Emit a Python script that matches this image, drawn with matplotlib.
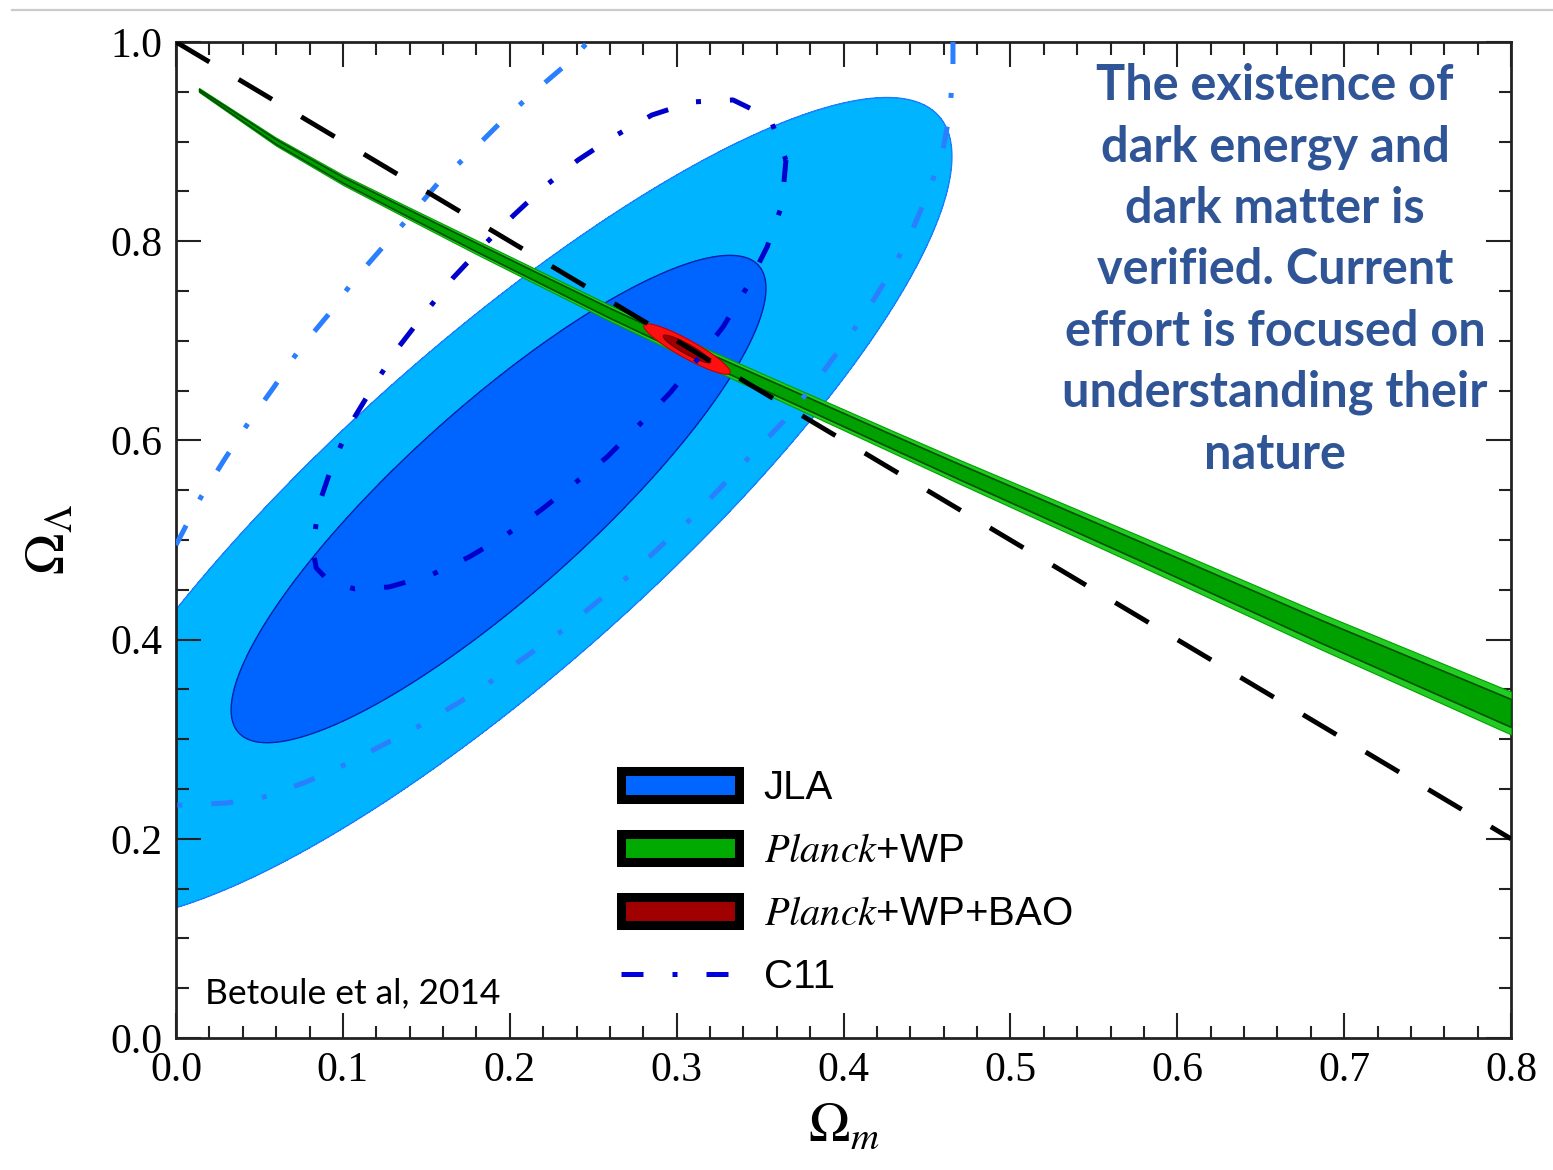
import numpy as np
import matplotlib
matplotlib.use("Agg")
import matplotlib.pyplot as plt
from matplotlib.patches import Patch
from matplotlib.lines import Line2D

plt.rcParams['font.family'] = 'Liberation Serif'
plt.rcParams['mathtext.fontset'] = 'stix'

# ---------------- data (Omega_m, Omega_Lambda) ----------------
# JLA confidence contours: points along the 1-sigma and 2-sigma boundaries
jla_inner_om = [0.0330, 0.0497, 0.1199, 0.1798, 0.2499, 0.2900, 0.3200, 0.3500,
                0.3560, 0.3500, 0.3338, 0.2517, 0.1996, 0.1396, 0.0899, 0.0497]
jla_inner_ol = [0.3424, 0.3122, 0.3363, 0.3926, 0.5070, 0.5733, 0.6406, 0.7108,
                0.7510, 0.7741, 0.7882, 0.7279, 0.6737, 0.5833, 0.5000, 0.4127]

jla_outer_om = [0.0000, 0.0401, 0.0839, 0.1396, 0.1996, 0.2517, 0.3098, 0.3500,
                0.3901, 0.4219, 0.4500, 0.4638, 0.4680, 0.4596, 0.4416, 0.4201,
                0.3979, 0.3799, 0.3619, 0.3302, 0.2900, 0.2517, 0.1798, 0.1001,
                0.0240, 0.0000]
jla_outer_ol = [0.4367, 0.5070, 0.5833, 0.6707, 0.7540, 0.8183, 0.8685, 0.9046,
                0.9317, 0.9418, 0.9367, 0.9187, 0.8845, 0.8283, 0.7610, 0.7008,
                0.6506, 0.6205, 0.5934, 0.5402, 0.4749, 0.4127, 0.2791, 0.1988,
                0.1586, 0.1406]

# Planck+WP degeneracy band: centre line and vertical half-widths
planck_om = [0.0138, 0.0599, 0.1001, 0.1396, 0.1798, 0.2199, 0.2600, 0.3062,
             0.3500, 0.4297, 0.4698, 0.5777, 0.6856, 0.8000]
planck_ol = [0.9518, 0.9000, 0.8615, 0.8280, 0.7942, 0.7610, 0.7279, 0.6918,
             0.6586, 0.5984, 0.5683, 0.4890, 0.4086, 0.3263]
planck_hw2 = [0.002, 0.004, 0.005, 0.006, 0.007, 0.0075, 0.008, 0.0088,
              0.0095, 0.011, 0.012, 0.015, 0.018, 0.0215]
planck_hw1 = [0.001, 0.0025, 0.003, 0.0037, 0.0043, 0.0046, 0.005, 0.0055,
              0.006, 0.007, 0.0077, 0.0095, 0.0115, 0.014]

# Planck+WP+BAO: centre, major and minor half-axis vectors
bao_center = (0.3062, 0.6918)
bao_major = (0.0258, -0.0241)
bao_minor = (-0.0026, -0.0079)

# C11 contours
c11_inner_om = [0.3655, 0.3631, 0.3542, 0.3422, 0.3278, 0.3122, 0.2960, 0.2775,
                0.2583, 0.2391, 0.2187, 0.1978, 0.1756, 0.1528, 0.1276, 0.1070,
                0.0920, 0.0840, 0.0821, 0.0851, 0.0941, 0.1049, 0.1187, 0.1330,
                0.1492, 0.1660, 0.1834, 0.2025, 0.2205, 0.2409, 0.2619, 0.2852,
                0.3092, 0.3338, 0.3560, 0.3655]
c11_inner_ol = [0.8815, 0.8363, 0.7942, 0.7540, 0.7139, 0.6807, 0.6476, 0.6155,
                0.5833, 0.5572, 0.5301, 0.5050, 0.4829, 0.4649, 0.4528, 0.4510,
                0.4580, 0.4720, 0.4900, 0.5331, 0.5773, 0.6175, 0.6556, 0.6928,
                0.7279, 0.7631, 0.7942, 0.8263, 0.8544, 0.8815, 0.9046, 0.9267,
                0.9398, 0.9418, 0.9237, 0.8815]

c11_outer_om = [0.0000, 0.0150, 0.0288, 0.0437, 0.0587, 0.0737, 0.0911, 0.1067,
                0.1240, 0.1408, 0.1576, 0.1768, 0.1960, 0.2145, 0.2349, 0.2469,
                np.nan,
                0.4656, 0.4656, 0.4638, 0.4590, 0.4494, 0.4387, 0.4261, 0.4117,
                0.3961, 0.3811, 0.3637, 0.3458, 0.3278, 0.3098, 0.2912, 0.2721,
                0.2523, 0.2319, 0.2109, 0.1900, 0.1690, 0.1468, 0.1240, 0.1007,
                0.0779, 0.0527, 0.0300, 0.0060, 0.0000]
c11_outer_ol = [0.4950, 0.5432, 0.5803, 0.6185, 0.6536, 0.6908, 0.7259, 0.7610,
                0.7942, 0.8263, 0.8594, 0.8896, 0.9217, 0.9498, 0.9789, 1.0000,
                np.nan,
                1.0000, 0.9749, 0.9297, 0.8865, 0.8434, 0.8012, 0.7631, 0.7239,
                0.6878, 0.6536, 0.6185, 0.5873, 0.5552, 0.5231, 0.4950, 0.4649,
                0.4378, 0.4096, 0.3845, 0.3594, 0.3363, 0.3143, 0.2942, 0.2741,
                0.2570, 0.2420, 0.2359, 0.2339, 0.2339]

# flat universe: Omega_m + Omega_Lambda = 1
flat_om = [0.0, 0.8]
flat_ol = [1.0, 0.2]

x_ticks = [0.0, 0.1, 0.2, 0.3, 0.4, 0.5, 0.6, 0.7, 0.8]
y_ticks = [0.0, 0.2, 0.4, 0.6, 0.8, 1.0]

legend_labels = ["JLA", r"$\mathit{Planck}$+WP", r"$\mathit{Planck}$+WP+BAO", "C11"]
note = ("The existence of\ndark energy and\ndark matter is\nverified. Current\n"
        "effort is focused on\nunderstanding their\nnature")
credit = "Betoule et al, 2014"


def conic_field(om, ol, X, Y):
    """Least-squares conic through boundary points; boundary is field == 1."""
    om = np.asarray(om, float)
    ol = np.asarray(ol, float)
    cx, cy = om.mean(), ol.mean()
    u, v = om - cx, ol - cy
    A = np.column_stack([u * u, u * v, v * v, u, v])
    p, *_ = np.linalg.lstsq(A, np.ones_like(u), rcond=None)
    U, V = X - cx, Y - cy
    return p[0] * U * U + p[1] * U * V + p[2] * V * V + p[3] * U + p[4] * V


def ellipse_xy(center, major, minor, scale=1.0, n=200):
    t = np.linspace(0, 2 * np.pi, n)
    x = center[0] + scale * (major[0] * np.cos(t) + minor[0] * np.sin(t))
    y = center[1] + scale * (major[1] * np.cos(t) + minor[1] * np.sin(t))
    return x, y


W, H, DPI = 1553, 1170, 100
fig = plt.figure(figsize=(W / DPI, H / DPI), dpi=DPI)
ax = fig.add_axes([176 / W, 1 - 1038 / H, (1511 - 176) / W, (1038 - 42) / H])

# grid for the JLA contour fields
gx = np.linspace(-0.3, 0.9, 700)
gy = np.linspace(-0.2, 1.2, 700)
X, Y = np.meshgrid(gx, gy)

F_out = conic_field(jla_outer_om, jla_outer_ol, X, Y)
F_in = conic_field(jla_inner_om, jla_inner_ol, X, Y)
ax.contourf(X, Y, F_out, levels=[F_out.min() - 1, 1], colors=['#00b4ff'], zorder=1)
ax.contour(X, Y, F_out, levels=[1], colors=['#1a7cff'], linewidths=1.0, zorder=1.1)
ax.contourf(X, Y, F_in, levels=[F_in.min() - 1, 1], colors=['#0064ff'], zorder=2)
ax.contour(X, Y, F_in, levels=[1], colors=['#0022aa'], linewidths=1.0, zorder=2.1)

# Planck+WP band
pom = np.array(planck_om)
pol = np.array(planck_ol)
h2 = np.array(planck_hw2)
h1 = np.array(planck_hw1)
ax.fill_between(pom, pol - h2, pol + h2, facecolor='#22cc22', edgecolor='#00a000',
                linewidth=0.8, zorder=3)
ax.fill_between(pom, pol - h1, pol + h1, facecolor='#00a000', edgecolor='#005000',
                linewidth=1.2, zorder=3.1)

# Planck+WP+BAO
bx, by = ellipse_xy(bao_center, bao_major, bao_minor)
ax.fill(bx, by, facecolor='#ff1010', edgecolor='#c00000', linewidth=0.8, zorder=4)
bx, by = ellipse_xy(bao_center, bao_major, bao_minor, scale=0.55)
ax.fill(bx, by, facecolor='#a00000', edgecolor='#700000', linewidth=0.8, zorder=4.1)

# C11 contours
dashdot = (0, (4.4, 5.8, 1.0, 5.8))
ax.plot(c11_outer_om, c11_outer_ol, color='#2a7fff', lw=3.6, linestyle=dashdot,
        dash_capstyle='butt', zorder=5)
ax.plot(c11_inner_om, c11_inner_ol, color='#0000cc', lw=3.6, linestyle=dashdot,
        dash_capstyle='butt', zorder=5.1)

# flat universe line
ax.plot(flat_om, flat_ol, color='black', lw=3.5, linestyle=(0, (8, 7)),
        dash_capstyle='butt', zorder=6)

ax.set_xlim(0, 0.8)
ax.set_ylim(0, 1.0)
ax.set_xticks(x_ticks)
ax.set_xticklabels([f"{v:.1f}" for v in x_ticks])
ax.set_yticks(y_ticks)
ax.set_yticklabels([f"{v:.1f}" for v in y_ticks])
ax.set_xticks(np.arange(0, 0.8001, 0.02), minor=True)
ax.set_yticks(np.arange(0, 1.0001, 0.05), minor=True)
ax.tick_params(which='both', direction='in', top=True, right=True, width=1.5,
               color='#222222')
ax.tick_params(which='major', length=18, labelsize=30, pad=10)
ax.tick_params(which='minor', length=9)
for s in ax.spines.values():
    s.set_linewidth(2.0)
    s.set_color('#222222')

ax.set_xlabel(r"$\Omega_m$", fontsize=40, labelpad=8)
ax.set_ylabel(r"$\Omega_\Lambda$", fontsize=40, labelpad=24)

# legend
handles = [
    Patch(facecolor='#0066ff', edgecolor='black', linewidth=6.5, joinstyle='round'),
    Patch(facecolor='#00aa00', edgecolor='black', linewidth=6.5, joinstyle='round'),
    Patch(facecolor='#a00000', edgecolor='black', linewidth=6.5, joinstyle='round'),
    Line2D([], [], color='#0000dd', lw=3.6, linestyle=dashdot, dash_capstyle='butt'),
]
leg = ax.legend(handles, legend_labels, loc='upper left',
                bbox_to_anchor=(0.333, 0.270), frameon=False,
                prop={'family': 'Liberation Sans', 'size': 29},
                handlelength=2.95, handleheight=0.67, handletextpad=0.6,
                labelspacing=0.62, borderpad=0, borderaxespad=0)
leg.set_zorder(10)

# annotations
fig.text(1275 / W, 1 - 63 / H, note, ha='center', va='top', fontsize=35,
         fontfamily='Lato', fontweight='bold', color='#2f5597', linespacing=1.44)
ax.text((199 - 176) / 1335, (1038 - 1003) / 996, credit, fontsize=25.5,
        fontfamily='Lato', color='black', ha='left', va='baseline', zorder=10)

# thin rule along the top of the page
fig.add_artist(Line2D([12 / W, 1.0], [1 - 10 / H, 1 - 10 / H], color='#cccccc', lw=1.6))

fig.savefig("out.png", dpi=DPI, facecolor='white')
